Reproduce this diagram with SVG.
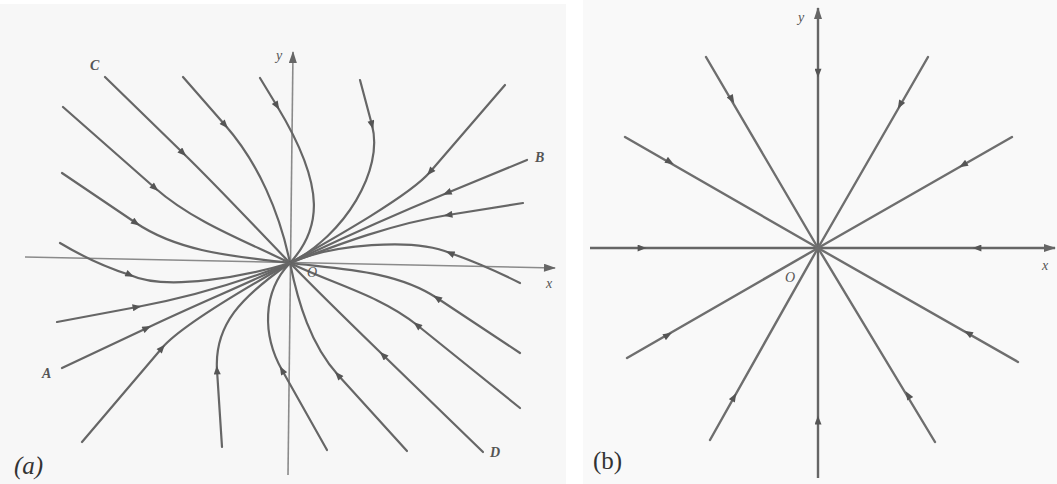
<svg xmlns="http://www.w3.org/2000/svg" width="1057" height="484" viewBox="0 0 1057 484">
<defs>
<marker id="ah" viewBox="0 0 10 8" refX="5" refY="4" markerWidth="10" markerHeight="7" markerUnits="userSpaceOnUse" orient="auto">
<path d="M0,0 L10,4 L0,8 z" fill="#555"/>
</marker>
<marker id="axa" viewBox="0 0 12 8" refX="11" refY="4" markerWidth="13" markerHeight="8" markerUnits="userSpaceOnUse" orient="auto">
<path d="M0,0 L12,4 L0,8 z" fill="#666"/>
</marker>
</defs>
<style>
.tr{fill:none;stroke:#666;stroke-width:2.2;stroke-linecap:round;stroke-linejoin:round}
.ax{fill:none;stroke:#8a8a8a;stroke-width:1.6}
.axb{fill:none;stroke:#666;stroke-width:2.4}
.ray{fill:none;stroke:#6e6e6e;stroke-width:2.4;stroke-linecap:round}
.am{fill:none;stroke:#555;stroke-width:1;marker-end:url(#ah)}
.lb{font-family:"Liberation Serif",serif;font-style:italic;fill:#555;font-size:14px}
.cap{font-family:"Liberation Serif",serif;fill:#333;font-size:25px}
</style>
<rect x="0" y="0" width="1057" height="484" fill="#ffffff"/>
<rect x="0" y="4" width="566" height="480" fill="#f7f7f7"/>
<rect x="583" y="0" width="474" height="484" fill="#f9f9f9"/>

<g id="panel-a">
<g id="axes-a">
<path class="ax" d="M288,475 L293,52" marker-end="url(#axa)"/>
<path class="ax" d="M25,257 L555,268" marker-end="url(#axa)"/>
</g>
<g id="trajectories-a">
<path class="tr" d="M62,173 L136,223 C180,252.7 237.5,256.6 290,263"/>
<path class="tr" d="M63,107 L155,188 C193.3,221.7 244.1,240.6 290,263"/>
<path class="tr" d="M105,77 L183,153 C219.7,188.7 254.3,226.3 290,263"/>
<path class="tr" d="M183,77 L225,125 C258.5,163.1 279.8,213.2 290,263"/>
<path class="tr" d="M260,78 L277,106 C328,190 320,230 290,263"/>
<path class="tr" d="M360,80 L372,125 C384,170 345,235 290,263"/>
<path class="tr" d="M505,85 L430,172 C410.5,194.8 338.5,235.7 290,263"/>
<path class="tr" d="M527,160 L447,193 C394.6,214.7 341.3,238.5 290,263"/>
<path class="tr" d="M523,203 L448,215 C393.5,223.8 341.2,243.2 290,263"/>
<path class="tr" d="M520,283 Q482,264 450,253 C413,237.4 331,244.5 290,263"/>
<path class="tr" d="M520,353 L437,298 C395.5,270.5 339.5,269 290,263"/>
<path class="tr" d="M520,408 L417,325 C380.3,295.4 332.3,283.7 290,263"/>
<path class="tr" d="M483,452 L383,355 C351.6,324.5 320.5,294.4 290,263"/>
<path class="tr" d="M407,451 L338,375 C310.8,345 298.1,302.8 290,263"/>
<path class="tr" d="M327,450 L282,370 C262.4,335.2 262,292 290,263"/>
<path class="tr" d="M222,447 L217,370 C214.3,325 240.8,297.2 290,263"/>
<path class="tr" d="M82,442 L162,348 C181.5,325.2 245.5,288.1 290,263"/>
<path class="tr" d="M62,368 L147,328 C193.8,305.6 243.2,285.4 290,263"/>
<path class="tr" d="M57,322 L137,307 C189,297.5 240.7,282.1 290,263"/>
<path class="tr" d="M60,243 Q95,264 130,275 C166.4,291.8 246.8,276 290,263"/>
</g>
<g id="arrows-a">
<path class="am" d="M135.17,222.44 l0.83,0.56"/>
<path class="am" d="M154.25,187.34 l0.75,0.66"/>
<path class="am" d="M182.28,152.3 l0.72,0.7"/>
<path class="am" d="M224.34,124.25 l0.66,0.75"/>
<path class="am" d="M276.48,105.15 l0.52,0.85"/>
<path class="am" d="M371.74,124.03 l0.26,0.97"/>
<path class="am" d="M430.65,171.24 l-0.65,0.76"/>
<path class="am" d="M447.92,192.62 l-0.92,0.38"/>
<path class="am" d="M448.99,214.84 l-0.99,0.16"/>
<path class="am" d="M450.92,253.39 l-0.92,-0.39"/>
<path class="am" d="M437.83,298.55 l-0.83,-0.55"/>
<path class="am" d="M417.78,325.63 l-0.78,-0.63"/>
<path class="am" d="M383.72,355.7 l-0.72,-0.7"/>
<path class="am" d="M338.67,375.74 l-0.67,-0.74"/>
<path class="am" d="M282.49,370.87 l-0.49,-0.87"/>
<path class="am" d="M217.06,371 l-0.06,-1"/>
<path class="am" d="M161.35,348.76 l0.65,-0.76"/>
<path class="am" d="M146.1,328.43 l0.9,-0.43"/>
<path class="am" d="M136.02,307.18 l0.98,-0.18"/>
<path class="am" d="M129.09,274.58 l0.91,0.42"/>
</g>
<g id="labels-a">
<text class="lb" x="90" y="70" font-weight="bold">C</text>
<text class="lb" x="276" y="60">y</text>
<text class="lb" x="535" y="162" font-weight="bold">B</text>
<text class="lb" x="546" y="288">x</text>
<text class="lb" x="42" y="378" font-weight="bold">A</text>
<text class="lb" x="490" y="457" font-weight="bold">D</text>
<text class="lb" x="307" y="277">O</text>
<text class="cap" x="14" y="474" font-style="italic">(a)</text>
</g>
</g>

<g id="panel-b">
<g id="axes-b">
<path class="axb" d="M818,478 L818,8" marker-end="url(#axa)"/>
<path class="axb" d="M590,248 L1055,248" marker-end="url(#axa)"/>
</g>
<g id="rays-b">
<path class="ray" d="M706,57 L818,248"/>
<path class="ray" d="M625,137 L818,248"/>
<path class="ray" d="M928,57 L818,248"/>
<path class="ray" d="M1012,137 L818,248"/>
<path class="ray" d="M1018,362 L818,248"/>
<path class="ray" d="M935,442 L818,248"/>
<path class="ray" d="M710,440 L818,248"/>
<path class="ray" d="M627,358 L818,248"/>
</g>
<g id="arrows-b">
<path class="am" d="M731.5,98.6 l0.51,0.86"/>
<path class="am" d="M669.1,161.5 l0.87,0.5"/>
<path class="am" d="M818,72 l0,1"/>
<path class="am" d="M900.5,104.1 l-0.5,0.87"/>
<path class="am" d="M963.9,164.5 l-0.87,0.5"/>
<path class="am" d="M978,248 l-1,0"/>
<path class="am" d="M968.9,333.5 l-0.87,-0.5"/>
<path class="am" d="M908.5,395.9 l-0.52,-0.86"/>
<path class="am" d="M818,421 l0,-1"/>
<path class="am" d="M733.5,397.9 l0.49,-0.87"/>
<path class="am" d="M667.1,335.5 l0.87,-0.5"/>
<path class="am" d="M641,248 l1,0"/>
</g>
<g id="labels-b">
<text class="lb" x="798" y="22">y</text>
<text class="lb" x="1042" y="270">x</text>
<text class="lb" x="785" y="282">O</text>
<text class="cap" x="593" y="469">(b)</text>
</g>
</g>
</svg>
